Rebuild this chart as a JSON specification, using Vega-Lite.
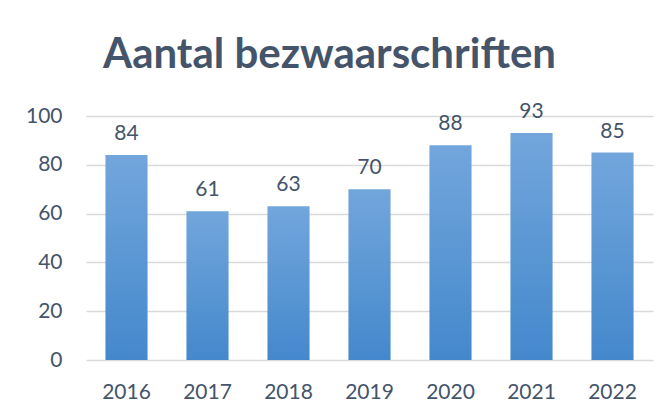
{
  "$schema": "https://vega.github.io/schema/vega-lite/v6.json",
  "autosize": "none",
  "width": 567,
  "height": 244,
  "padding": {"left": 86, "top": 116, "right": 18, "bottom": 52},
  "background": "white",
  "title": {
    "text": "Aantal bezwaarschriften",
    "font": "Lato",
    "fontWeight": "bold",
    "fontSize": 42,
    "color": "#44546A",
    "anchor": "middle",
    "frame": "group",
    "baseline": "alphabetic",
    "offset": -9,
    "dx": -40
  },
  "data": {
    "values": [
      {"year": "2016", "count": 84},
      {"year": "2017", "count": 61},
      {"year": "2018", "count": 63},
      {"year": "2019", "count": 70},
      {"year": "2020", "count": 88},
      {"year": "2021", "count": 93},
      {"year": "2022", "count": 85}
    ]
  },
  "config": {
    "view": {"stroke": null},
    "axis": {
      "labelFont": "Lato",
      "labelFontSize": 21,
      "labelColor": "#44546A",
      "ticks": false,
      "title": null,
      "gridColor": "#D9D9D9",
      "gridWidth": 1.5
    }
  },
  "encoding": {
    "x": {
      "field": "year",
      "type": "nominal",
      "scale": {"paddingInner": 0.48, "paddingOuter": 0.24},
      "axis": {"labelAngle": 0, "domain": false, "grid": false, "labelPadding": 21}
    },
    "y": {
      "field": "count",
      "type": "quantitative",
      "scale": {"domain": [0, 100]},
      "axis": {"values": [0, 20, 40, 60, 80, 100], "domain": false, "grid": true, "labelPadding": 24}
    }
  },
  "layer": [
    {
      "mark": {
        "type": "bar",
        "color": {
          "gradient": "linear",
          "x1": 0, "y1": 0, "x2": 0, "y2": 1,
          "stops": [
            {"offset": 0, "color": "#72A6DC"},
            {"offset": 1, "color": "#4488CC"}
          ]
        }
      }
    },
    {
      "mark": {"type": "text", "font": "Lato", "fontSize": 21, "color": "#44546A", "baseline": "bottom", "dy": -11},
      "encoding": {"text": {"field": "count", "type": "quantitative"}}
    }
  ]
}
